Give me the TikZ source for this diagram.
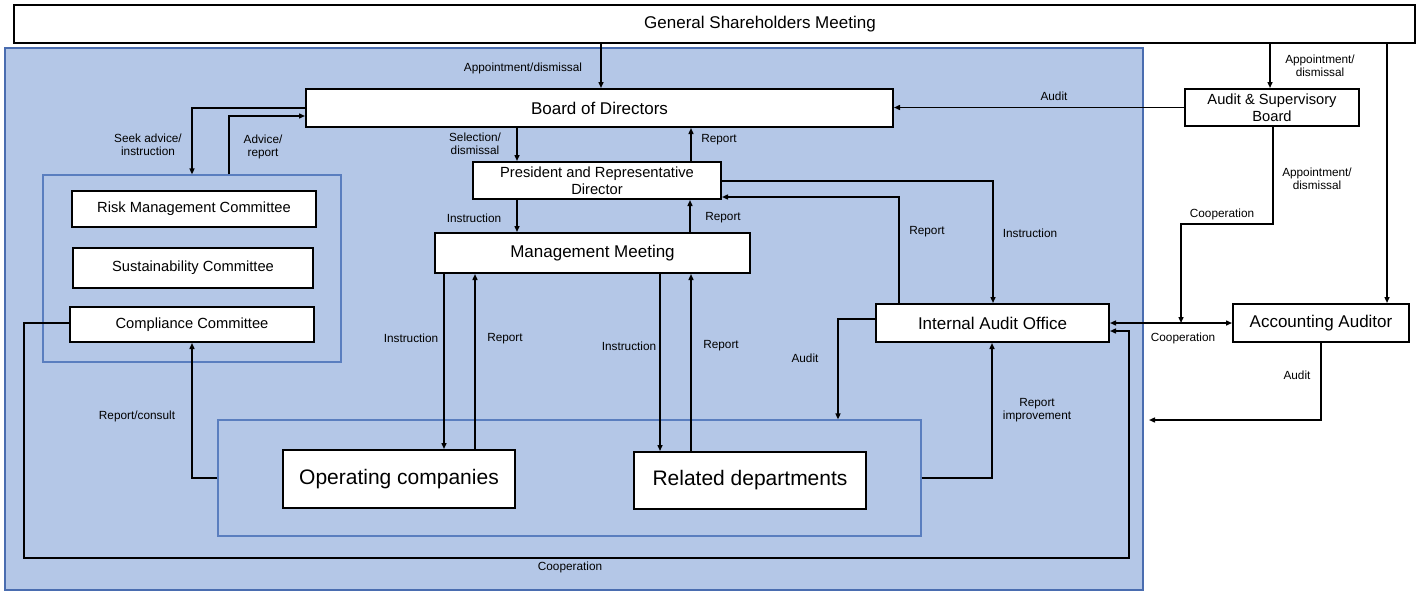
\documentclass[tikz,border=0pt]{standalone}
\usepackage{fontspec}
\setmainfont{Liberation Sans}
\usetikzlibrary{arrows.meta}
\definecolor{panelblue}{HTML}{B4C7E7}
\definecolor{paneledge}{HTML}{4A6DB0}
\definecolor{groupedge}{HTML}{5A7EBF}

\tikzset{
  box/.style={draw=black, line width=2pt, fill=white, inner sep=0pt, align=center,
    font=\fontsize{17}{19}\selectfont},
  midbox/.style={box, font=\fontsize{14.7}{16.5}\selectfont},
  bigbox/.style={box, font=\fontsize{21}{23}\selectfont},
  group/.style={draw=groupedge, line width=1.2pt, inner sep=0pt},
  lbl/.style={inner sep=0pt, align=center, font=\fontsize{11.8}{13.5}\selectfont},
  tip/.tip={Triangle[length=6pt,width=5pt]},
  link/.style={draw=black, line width=1.4pt, -tip},
  twoway/.style={draw=black, line width=1.4pt, tip-tip},
}

\begin{document}
\begin{tikzpicture}[x=1pt,y=-1pt]
\useasboundingbox (0,0) rectangle (1424,592);
\fill[white] (0,0) rectangle (1424,592);

% company panel and sub-groups
\node[draw=paneledge, fill=panelblue, line width=2.5pt, inner sep=0pt,
      minimum width=1138pt, minimum height=542pt] (panel) at (574,319) {};
\node[group, minimum width=298pt, minimum height=187pt] (cgroup) at (192,268.5) {};
\node[group, minimum width=703pt, minimum height=116pt] (ogroup) at (569.5,478) {};

% boxes
\node[box, minimum width=1401pt, minimum height=38pt] (gsm) at (714.5,24)
  {\hspace*{91pt}General Shareholders Meeting};
\node[box, minimum width=587pt, minimum height=38pt] (board) at (599.5,108) {Board of Directors};
\node[midbox, minimum width=174pt, minimum height=37pt] (asb) at (1272,107.5) {Audit \& Supervisory\\Board};
\node[midbox, minimum width=248pt, minimum height=37pt] (pres) at (597,180.5) {President and Representative\\Director};
\node[box, minimum width=315pt, minimum height=40pt] (mm) at (592.5,253) {Management Meeting};
\node[box, minimum width=233pt, minimum height=38pt] (iao) at (992.5,323) {Internal Audit Office};
\node[box, minimum width=176pt, minimum height=38pt] (acc) at (1321,323) {Accounting Auditor};
\node[midbox, minimum width=244pt, minimum height=36pt] (risk) at (194,209) {Risk Management Committee};
\node[midbox, minimum width=240pt, minimum height=40pt] (sust) at (193,268) {Sustainability Committee};
\node[midbox, minimum width=244pt, minimum height=35pt] (comp) at (192,324.5) {Compliance Committee};
\node[bigbox, minimum width=232pt, minimum height=58pt] (ops) at (399,479) {Operating companies};
\node[bigbox, minimum width=232pt, minimum height=57pt] (rel) at (750,480.5) {Related departments};

% connectors
\coordinate (coopjoin) at (1181,323);
\coordinate (accaudit) at (1149,420);
\draw[link] (gsm.south -| 601,0) -- (board.north -| 601,0);
\draw[link] (gsm.south -| 1270,0) -- (asb.north -| 1270,0);
\draw[link] (gsm.south -| 1387,0) -- (acc.north -| 1387,0);
\draw[link] (asb.west) -- (asb.west -| board.east);
\draw[link] (asb.south -| 1273,0) |- (1181,224) -- (coopjoin);
\draw[twoway] (iao.east) -- (acc.west);
\draw[link] (acc.south -| 1321,0) |- (accaudit);
\draw[link] (board.west) -| (cgroup.north -| 192,0);
\draw[link] (cgroup.north -| 229,0) |- (board.west |- 0,116);
\draw[link] (board.south -| 517,0) -- (pres.north -| 517,0);
\draw[link] (pres.north -| 691,0) -- (board.south -| 691,0);
\draw[link] (pres.south -| 517,0) -- (mm.north -| 517,0);
\draw[link] (mm.north -| 690,0) -- (pres.south -| 690,0);
\draw[link] (pres.east |- 0,181) -| (iao.north -| 993,0);
\draw[link] (iao.north -| 899,0) |- (pres.east |- 0,197);
\draw[link] (mm.south -| 444,0) -- (ops.north -| 444,0);
\draw[link] (ops.north -| 475,0) -- (mm.south -| 475,0);
\draw[link] (mm.south -| 660,0) -- (rel.north -| 660,0);
\draw[link] (rel.north -| 691,0) -- (mm.south -| 691,0);
\draw[link] (iao.west |- 0,319) -| (ogroup.north -| 838,0);
\draw[link] (ogroup.east |- 0,478) -| (iao.south -| 992,0);
\draw[link] (ogroup.west |- 0,478) -| (comp.south -| 192,0);
\draw[link] (comp.west |- 0,323) -| (24,558) -| (1129,331) -- (iao.east |- 0,331);

% connector labels
\node[lbl] (t1) at (523,68) {Appointment/dismissal};
\node[lbl] (t2) at (1320,66) {Appointment/\\dismissal};
\node[lbl] (t3) at (1054,96) {Audit};
\node[lbl] (t4) at (1317,179) {Appointment/\\dismissal};
\node[lbl] (t5) at (1222,214) {Cooperation};
\node[lbl] (t6) at (1183,338) {Cooperation};
\node[lbl] (t7) at (1297,375) {Audit};
\node[lbl] (t8) at (148,145) {Seek advice/\\instruction};
\node[lbl] (t9) at (263,147) {Advice/\\report};
\node[lbl] (t10) at (475,144) {Selection/\\dismissal};
\node[lbl] (t11) at (719,140) {Report};
\node[lbl] (t12) at (474,218) {Instruction};
\node[lbl] (t13) at (723,218) {Report};
\node[lbl] (t14) at (1030,233) {Instruction};
\node[lbl] (t15) at (927,232) {Report};
\node[lbl] (t16) at (411,338) {Instruction};
\node[lbl] (t17) at (505,339) {Report};
\node[lbl] (t18) at (629,346) {Instruction};
\node[lbl] (t19) at (721,346) {Report};
\node[lbl] (t20) at (805,358) {Audit};
\node[lbl] (t21) at (1037,410) {Report\\improvement};
\node[lbl] (t22) at (137,416) {Report/consult};
\node[lbl] (t23) at (570,567) {Cooperation};
\end{tikzpicture}
\end{document}
